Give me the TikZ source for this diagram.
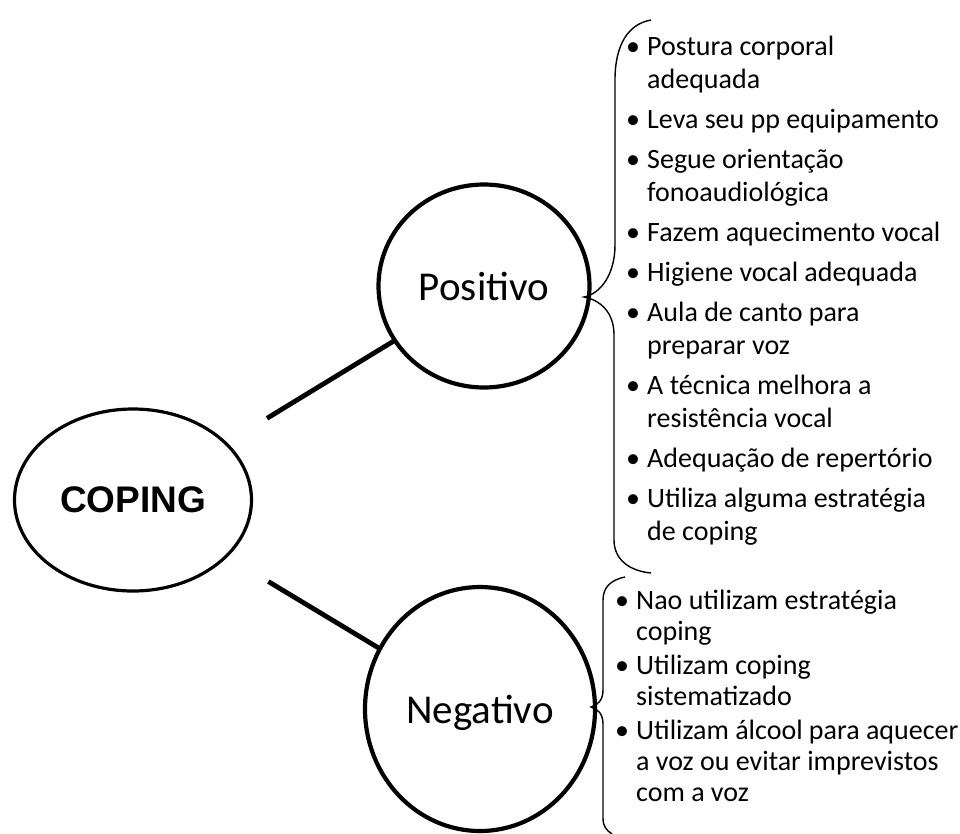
\documentclass[tikz,border=0pt]{standalone}
\usepackage{fontspec}
\setmainfont{Carlito}
\newfontfamily\arialfont{Liberation Sans}
\usetikzlibrary{shapes.geometric}
\begin{document}
\begin{tikzpicture}[x=1pt,y=-1pt,
  bubble/.style={draw,ellipse,inner sep=0pt,outer sep=0pt,text depth=0pt},
  link/.style={line width=4.8pt},
  bracepath/.style={line width=1.4pt},
  item/.style={anchor=base west,inner sep=0pt,font=\fontsize{28}{33}\selectfont},
  bul/.style={anchor=base,inner sep=0pt,font=\fontsize{28}{33}\selectfont}]
\useasboundingbox[fill=white] (0,0) rectangle (960,833);

% main nodes
\node[bubble,line width=3.2pt,minimum width=237pt,minimum height=182pt,
      font=\arialfont\bfseries\fontsize{37}{40}\selectfont] (coping) at (133,500) {COPING};
\node[bubble,line width=4.2pt,minimum width=211pt,minimum height=203pt,
      font=\fontsize{41}{45}\selectfont] (pos) at (484,286) {Positivo};
\node[bubble,line width=4.2pt,minimum width=230pt,minimum height=244pt,
      font=\fontsize{41}{45}\selectfont] (neg) at (480,709) {Negativo};

% connectors
\draw[link,shorten <=157pt] (coping.center) -- (pos);
\draw[link,shorten <=158pt] (coping.center) -- (neg);

% braces
\draw[bracepath] (651,20) .. controls (628,24) and (615,45) .. (615,80)
  -- (615,245) .. controls (615,275) and (600,294) .. (584,297)
  .. controls (600,300) and (614,312) .. (614,335)
  -- (614,540) .. controls (614,560) and (630,571) .. (651,573);
\draw[bracepath] (625,577) .. controls (610,580) and (603,588) .. (603,600)
  -- (603,690) .. controls (603,700) and (598,705) .. (591,707)
  .. controls (598,709) and (603,714) .. (603,724)
  -- (603,818) .. controls (603,826) and (606,830) .. (612,834);

% Positivo list
\node[bul] (pb1) at (633,55) {•};
\node[item] (p1a) at (647,55) {Postura corporal};
\node[item] (p1b) at (647,88) {adequada};
\node[bul] (pb2) at (633,128) {•};
\node[item] (p2a) at (647,128) {Leva seu pp equipamento};
\node[bul] (pb3) at (633,168) {•};
\node[item] (p3a) at (647,168) {Segue orientação};
\node[item] (p3b) at (647,201) {fonoaudiológica};
\node[bul] (pb4) at (633,241) {•};
\node[item] (p4a) at (647,241) {Fazem aquecimento vocal};
\node[bul] (pb5) at (633,281) {•};
\node[item] (p5a) at (647,281) {Higiene vocal adequada};
\node[bul] (pb6) at (633,321) {•};
\node[item] (p6a) at (647,321) {Aula de canto para};
\node[item] (p6b) at (647,354) {preparar voz};
\node[bul] (pb7) at (633,394) {•};
\node[item] (p7a) at (647,394) {A técnica melhora a};
\node[item] (p7b) at (647,427) {resistência vocal};
\node[bul] (pb8) at (633,467) {•};
\node[item] (p8a) at (647,467) {Adequação de repertório};
\node[bul] (pb9) at (633,507) {•};
\node[item] (p9a) at (647,507) {Utiliza alguma estratégia};
\node[item] (p9b) at (647,540) {de coping};

% Negativo list
\node[bul] (nb1) at (622,609) {•};
\node[item] (n1a) at (636,609) {Nao utilizam estratégia};
\node[item] (n1b) at (636,640) {coping};
\node[bul] (nb2) at (622,674) {•};
\node[item] (n2a) at (636,674) {Utilizam coping};
\node[item] (n2b) at (636,705) {sistematizado};
\node[bul] (nb3) at (622,739) {•};
\node[item] (n3a) at (636,739) {Utilizam álcool para aquecer};
\node[item] (n3b) at (636,770) {a voz ou evitar imprevistos};
\node[item] (n3c) at (636,801) {com a voz};
\end{tikzpicture}
\end{document}
